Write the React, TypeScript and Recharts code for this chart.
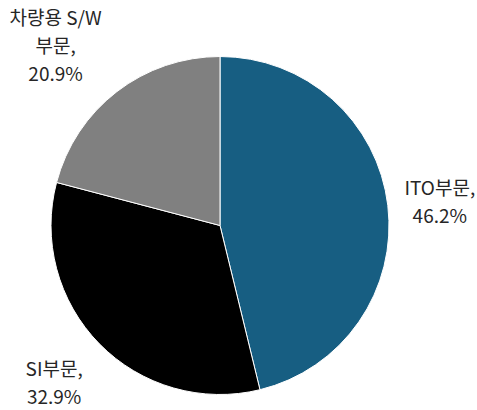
import { Cell, Pie, PieChart } from 'recharts'

const segments = ['ITO부문', 'SI부문', '차량용 S/W 부문']
const shares = [46.2, 32.9, 20.9]
const labelLines = [
  ['ITO부문,'],
  ['SI부문,'],
  ['차량용 S/W', '부문,']
]
const colors = ['#175e82', '#000000', '#808080']

const data = segments.map((name, i) => ({ name, value: shares[i] }))

// label distance (x outer radius) and a small nudge, per slice
const labelPlace = [
  { k: 1.31, dx: 0, dy: 1 },
  { k: 1.35, dx: -3, dy: -4 },
  { k: 1.4, dx: -20, dy: 6 }
]

const RAD = Math.PI / 180

function renderLabel(props: any) {
  const { cx, cy, midAngle, outerRadius, index } = props
  const p = labelPlace[index]
  const r = outerRadius * p.k
  const x = cx + r * Math.cos(-midAngle * RAD) + p.dx
  const y = cy + r * Math.sin(-midAngle * RAD) + p.dy
  const lines = [...labelLines[index], `${shares[index]}%`]
  const step = 28
  const top = y - ((lines.length - 1) * step) / 2
  return (
    <text
      x={x}
      y={top}
      textAnchor="middle"
      dominantBaseline="central"
      fill="#262626"
      fontSize={19}
      fontFamily="'Noto Sans CJK KR', 'Noto Sans', sans-serif"
    >
      {lines.map((line, i) => (
        <tspan key={i} x={x} dy={i === 0 ? 0 : step}>
          {line}
        </tspan>
      ))}
    </text>
  )
}

export default function App() {
  return (
    <div style={{ position: 'absolute', left: 0, top: 0, background: '#ffffff' }}>
      <PieChart width={477} height={410} margin={{ top: 0, right: 0, bottom: 0, left: 0 }}>
        <Pie
          data={data}
          dataKey="value"
          nameKey="name"
          cx={220}
          cy={225.5}
          outerRadius={169}
          startAngle={90}
          endAngle={-270}
          stroke="#ffffff"
          strokeWidth={1}
          label={renderLabel}
          labelLine={false}
          isAnimationActive={false}
        >
          {data.map((d, i) => (
            <Cell key={d.name} fill={colors[i]} />
          ))}
        </Pie>
      </PieChart>
    </div>
  )
}
